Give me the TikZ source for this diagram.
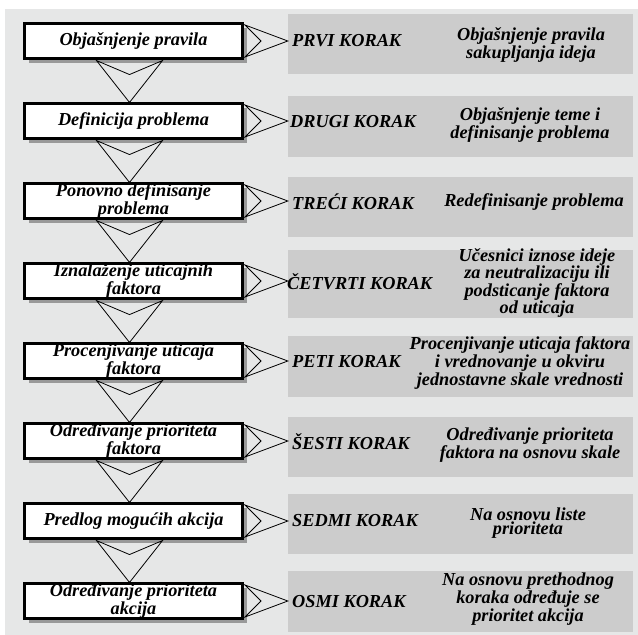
\documentclass[tikz,border=0pt]{standalone}
\usepackage{fontspec}
\setmainfont{Liberation Serif}
\usetikzlibrary{calc,shadows}
\definecolor{pagebg}{HTML}{E6E7E7}
\definecolor{panelgray}{HTML}{CCCCCC}
\definecolor{shadowgray}{HTML}{999999}
\tikzset{
  txt/.style={font=\fontsize{18.3}{13.8}\selectfont\bfseries\itshape, align=center, inner sep=0pt},
  stepbox/.style={txt, draw=black, line width=2.6pt, fill=white,
    minimum width=218.5pt, minimum height=34.5pt,
    drop shadow={shadow xshift=4.5pt, shadow yshift=-4.5pt, fill=shadowgray, opacity=1}},
  panel/.style={fill=panelgray, inner sep=0pt, minimum width=345pt, minimum height=60pt},
  steplabel/.style={txt, anchor=west},
  desc/.style={txt},
  link/.style={draw=black, line width=0.8pt, line join=miter}
}
\begin{document}
\begin{tikzpicture}[x=1pt, y=-1pt]
\useasboundingbox (0,0) rectangle (638,635);
% page background
\fill[pagebg] (5,9) rectangle (638,635);

% grey panels on the right
\node[panel] (g1) at (460.5,44) {};
\node[panel, minimum height=61pt] (g2) at (460.5,126.5) {};
\node[panel] (g3) at (460.5,207) {};
\node[panel, minimum height=68pt] (g4) at (460.5,284) {};
\node[panel, minimum height=61pt] (g5) at (460.5,366.5) {};
\node[panel] (g6) at (460.5,447) {};
\node[panel] (g7) at (460.5,524) {};
\node[panel, minimum height=61pt] (g8) at (460.5,601.5) {};

% process boxes on the left
\node[stepbox] (b1) at (133.5,41) {Objašnjenje pravila};
\node[stepbox] (b2) at (133.5,121) {Definicija problema};
\node[stepbox] (b3) at (133.5,201) {Ponovno definisanje\\problema};
\node[stepbox] (b4) at (133.5,281) {Iznalaženje uticajnih\\faktora};
\node[stepbox] (b5) at (133.5,361) {Procenjivanje uticaja\\faktora};
\node[stepbox] (b6) at (133.5,441) {Određivanje prioriteta\\faktora};
\node[stepbox] (b7) at (133.5,521) {Predlog mogućih akcija};
\node[stepbox] (b8) at (133.5,601) {Određivanje prioriteta\\akcija};

% chevrons between consecutive boxes
\foreach \a/\b in {b1/b2,b2/b3,b3/b4,b4/b5,b5/b6,b6/b7,b7/b8}{
  \coordinate (top) at ($(\b.north)+(-4,0)$);
  \coordinate (bl) at ($(\a.south)+(-37,1)$);
  \coordinate (br) at ($(\a.south)+(29,1)$);
  \draw[link] (bl) -- (top) -- (br) -- ($(\a.south)+(-4,15)$) -- cycle;
}

% chevrons from each box to its panel
\foreach \a/\g in {b1/g1,b2/g2,b3/g3,b4/g4,b5/g5,b6/g6,b7/g7,b8/g8}{
  \coordinate (tip) at (\g.west |- \a.east);
  \coordinate (ut) at ($(\a.east)+(1,-16)$);
  \coordinate (lt) at ($(\a.east)+(1,16)$);
  \draw[link] (ut) -- (tip) -- (lt) -- ($(\a.east)+(17,0)$) -- cycle;
}

% step names
\node[steplabel] (k1) at (292,41) {PRVI KORAK};
\node[steplabel] (k2) at (290,122) {DRUGI KORAK};
\node[steplabel] (k3) at (292,202) {TREĆI KORAK};
\node[steplabel] (k4) at (287,282) {ČETVRTI KORAK};
\node[steplabel] (k5) at (292,362) {PETI KORAK};
\node[steplabel] (k6) at (292,442) {ŠESTI KORAK};
\node[steplabel] (k7) at (292,521) {SEDMI KORAK};
\node[steplabel] (k8) at (292,602) {OSMI KORAK};

% step descriptions
\node[desc] (d1) at (531,45) {Objašnjenje pravila\\sakupljanja ideja};
\node[desc] (d2) at (530,125) {Objašnjenje teme i\\definisanje problema};
\node[desc] (d3) at (534,202) {Redefinisanje problema};
\node[desc] (d4) at (537,283) {Učesnici iznose ideje\\za neutralizaciju ili\\podsticanje faktora\\od uticaja};
\node[desc] (d5) at (520,363) {Procenjivanje uticaja faktora\\i vrednovanje u okviru\\jednostavne skale vrednosti};
\node[desc] (d6) at (530,445) {Određivanje prioriteta\\faktora na osnovu skale};
\node[desc] (d7) at (528,523) {Na osnovu liste\\prioriteta};
\node[desc] (d8) at (528,599) {Na osnovu prethodnog\\koraka određuje se\\prioritet akcija};
\end{tikzpicture}
\end{document}
